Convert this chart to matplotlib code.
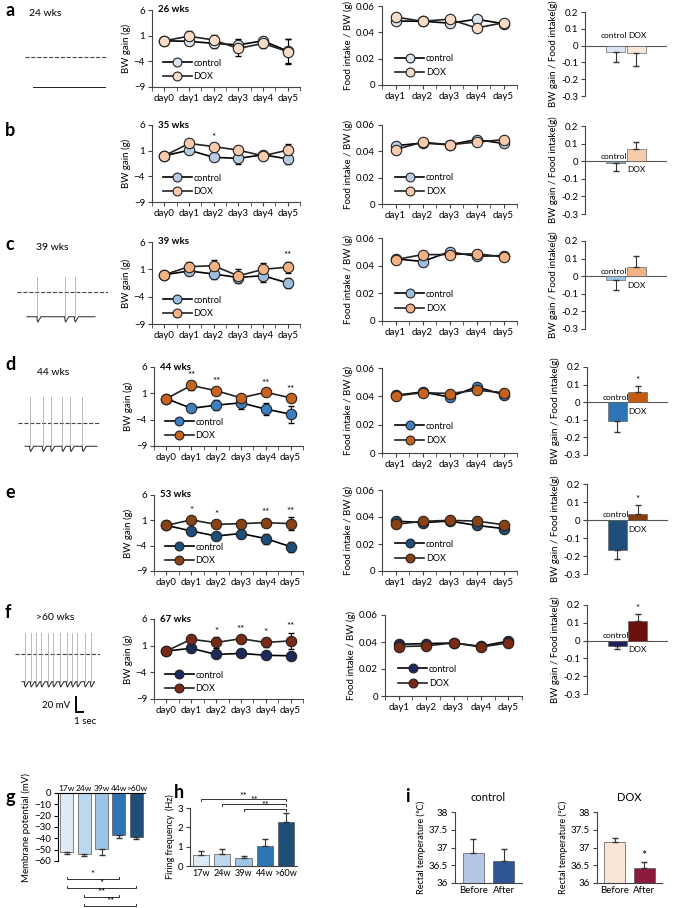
import matplotlib.pyplot as plt
import numpy as np

plt.rcParams['font.family'] = ['Lato', 'DejaVu Sans']
plt.rcParams['font.size'] = 7
plt.rcParams['axes.linewidth'] = 0.8

W, H = 674, 908

# ---- data ----
days_bw = ['day0', 'day1', 'day2', 'day3', 'day4', 'day5']
days_food = ['day1', 'day2', 'day3', 'day4', 'day5']
weeks = ['26 wks', '35 wks', '39 wks', '44 wks', '53 wks', '67 wks']

bw_ctrl = [[0, -0.1, -0.5, -0.8, 0.0, -2.0],
           [0, 1.1, -0.3, -0.5, 0.2, -0.6],
           [0, 0.7, 0.15, -0.5, -0.15, -1.5],
           [0, -1.85, -1.25, -0.8, -2.0, -2.95],
           [0, -1.1, -2.1, -1.6, -2.6, -4.2],
           [0, 0.5, -0.65, -0.45, -0.8, -0.9]]
bw_ctrl_err = [[0, 0.8, 0.9, 1.2, 0.8, 2.4],
               [0, 0.7, 0.5, 1.0, 0.6, 1.0],
               [0, 0.8, 1.0, 0.6, 1.1, 1.0],
               [0, 0.5, 1.0, 1.1, 1.2, 1.6],
               [0, 0.5, 0.5, 0.8, 1.0, 1.0],
               [0, 0.6, 0.4, 0.4, 0.4, 0.4]]
bw_dox = [[0, 0.9, 0.15, -1.5, -0.5, -2.1],
          [0, 2.4, 1.8, 1.1, 0.0, 1.1],
          [0, 1.5, 1.65, -0.2, 1.0, 1.4],
          [0, 2.5, 1.5, 0.15, 1.2, 0.15],
          [0, 1.1, 0.2, 0.35, 0.55, 0.35],
          [0, 2.2, 1.6, 2.3, 1.6, 1.9]]
bw_dox_err = [[0, 1.0, 1.0, 1.5, 1.0, 2.5],
              [0, 0.5, 0.6, 0.9, 0.8, 1.2],
              [0, 0.8, 1.0, 1.3, 1.2, 1.0],
              [0, 0.8, 0.5, 0.6, 0.5, 0.5],
              [0, 0.6, 0.8, 0.8, 0.8, 1.3],
              [0, 0.8, 1.0, 0.5, 0.8, 1.5]]
bw_stars = [['', '', '', '', '', ''],
            ['', '', '*', '', '', ''],
            ['', '', '', '', '', '**'],
            ['', '**', '**', '', '**', '**'],
            ['', '*', '*', '', '**', '**'],
            ['', '', '*', '**', '*', '**']]

food_ctrl = [[0.0486, 0.0484, 0.047, 0.0499, 0.0466],
             [0.0443, 0.0463, 0.045, 0.0489, 0.046],
             [0.045, 0.043, 0.050, 0.0468, 0.0473],
             [0.0407, 0.0431, 0.0395, 0.0467, 0.0412],
             [0.037, 0.0358, 0.037, 0.0338, 0.0314],
             [0.0383, 0.0388, 0.0393, 0.0368, 0.0407]]
food_dox = [[0.0516, 0.0484, 0.050, 0.0433, 0.0473],
            [0.0413, 0.047, 0.045, 0.047, 0.0489],
            [0.0444, 0.048, 0.048, 0.0487, 0.0463],
            [0.0402, 0.0426, 0.042, 0.0443, 0.0426],
            [0.0346, 0.0368, 0.0375, 0.037, 0.0343],
            [0.0366, 0.0371, 0.0393, 0.0363, 0.0393]]

ratio_ctrl = [-0.040, -0.013, -0.020, -0.107, -0.169, -0.028]
ratio_ctrl_err = [0.056, 0.044, 0.058, 0.060, 0.049, 0.020]
ratio_dox = [-0.046, 0.072, 0.052, 0.056, 0.031, 0.111]
ratio_dox_err = [0.076, 0.038, 0.065, 0.037, 0.052, 0.041]
ratio_stars = ['', '', '', '*', '*', '*']

ctrl_colors = ['#dce6f2', '#b8cce4', '#9dbde0', '#3d7fc0', '#1f4e79', '#1b2a5a']
dox_colors = ['#f9dcc8', '#f8cbad', '#f4b183', '#c8631f', '#8a4215', '#7a2a14']
ctrl_bar_colors = ['#dce6f2', '#8ea9c1', '#9dc3e6', '#2e75b6', '#1f4e79', '#1b1f5a']
dox_bar_colors = ['#fbe5d6', '#f8cbad', '#f4b183', '#c55a11', '#843c0c', '#6d0f0f']

# electrophysiology traces: spike times (s), resting level and spike peak (mV)
trace_names = ['24 wks', '39 wks', '44 wks', '>60 wks']
trace_spikes = [[],
                [2.7, 6.4, 7.7],
                [1.6, 3.3, 4.4, 5.9, 7.0, 8.6],
                [1.3, 2.1, 2.8, 3.5, 4.4, 5.1, 6.0, 6.9, 7.6, 8.3, 9.3, 10.1]]
trace_rest = [-40, -33, -31, -37]
trace_peak = [0, 20, 35, 28]

age_groups = ['17w', '24w', '39w', '44w', '>60w']
membrane = [-52, -54, -49, -37, -39]
membrane_err = [2, 2, 6, 3, 1.5]
firing = [0.55, 0.6, 0.4, 1.05, 2.3]
firing_err = [0.25, 0.3, 0.12, 0.35, 0.45]
age_colors = ['#deebf7', '#bdd7ee', '#9dc3e6', '#2e75b6', '#1f4e79']

temp_labels = ['Before', 'After']
temp_ctrl = [36.85, 36.63]
temp_ctrl_err = [0.38, 0.33]
temp_dox = [37.15, 36.43]
temp_dox_err = [0.12, 0.15]

fig = plt.figure(figsize=(W / 100, H / 100), dpi=100)


def px_axes(x0, y0, x1, y1):
    return fig.add_axes([x0 / W, 1 - y1 / H, (x1 - x0) / W, (y1 - y0) / H])


def style(ax):
    for s in ['top', 'right']:
        ax.spines[s].set_visible(False)
    ax.spines['left'].set_color('#444')
    ax.spines['bottom'].set_color('#444')
    ax.tick_params(length=3, width=0.8, color='#444', pad=2)


bw_boxes = [(152, 10, 300, 87), (152, 125, 300, 202), (152, 242, 300, 324),
            (154, 367, 303, 446), (154, 495, 303, 571), (154, 619, 303, 699)]
food_boxes = [(382, 6, 517, 85), (382, 125, 517, 204), (382, 238, 517, 321),
              (382, 368, 517, 453), (382, 490, 517, 571), (385, 615, 522, 696)]
bar_boxes = [(585, 12, 667, 96), (585, 126, 667, 214), (585, 241, 667, 329),
             (587, 367, 668, 455), (587, 484, 668, 574), (587, 605, 668, 694)]
letter_y = [10, 130, 245, 365, 492, 612]

for r in range(6):
    fig.text(5 / W, 1 - letter_y[r] / H, 'abcdef'[r], fontsize=13,
             fontweight='bold', va='center')

    # body weight gain
    ax = px_axes(*bw_boxes[r])
    x = np.arange(6)
    ax.errorbar(x, bw_ctrl[r], yerr=bw_ctrl_err[r], fmt='none', ecolor='k',
                elinewidth=0.8, capsize=2)
    ax.errorbar(x, bw_dox[r], yerr=bw_dox_err[r], fmt='none', ecolor='k',
                elinewidth=0.8, capsize=2)
    ax.plot(x, bw_ctrl[r], '-o', color='k', lw=1.2, ms=7.5, mfc=ctrl_colors[r],
            mec='#222', mew=0.8, label='control')
    ax.plot(x, bw_dox[r], '-o', color='#222', lw=1.2, ms=7.5, mfc=dox_colors[r],
            mec='#222', mew=0.8, label='DOX')
    for i, s in enumerate(bw_stars[r]):
        if s:
            top = max(bw_ctrl[r][i] + bw_ctrl_err[r][i], bw_dox[r][i] + bw_dox_err[r][i])
            ax.text(i, top + 0.3, s, ha='center', va='bottom', fontsize=7)
    ax.set_xlim(-0.5, 5.5)
    ax.set_ylim(-9, 6)
    ax.set_yticks([6, 1, -4, -9])
    ax.set_xticks(x)
    ax.set_xticklabels(days_bw)
    ax.set_xticks(np.arange(-0.5, 6, 1), minor=True)
    ax.tick_params(axis='x', which='major', length=0)
    ax.tick_params(axis='x', which='minor', length=3, color='#444')
    style(ax)
    ax.set_ylabel('BW gain (g)', labelpad=2)
    ax.text(0.04, 1.0, weeks[r], transform=ax.transAxes, fontweight='bold',
            va='center', fontsize=7)
    ax.legend(loc='lower left', bbox_to_anchor=(0.03, 0.0), frameon=False,
              handlelength=3.2, labelspacing=0.45, fontsize=6.5, borderpad=0.2,
              handletextpad=0.2, markerscale=0.85)

    # food intake
    ax = px_axes(*food_boxes[r])
    x = np.arange(5)
    ax.plot(x, food_ctrl[r], '-o', color='k', lw=1.2, ms=7.5, mfc=ctrl_colors[r],
            mec='#222', mew=0.8, label='control')
    ax.plot(x, food_dox[r], '-o', color='#222', lw=1.2, ms=7.5, mfc=dox_colors[r],
            mec='#222', mew=0.8, label='DOX')
    ax.set_xlim(-0.5, 4.5)
    ax.set_ylim(0, 0.06)
    ax.set_yticks([0, 0.02, 0.04, 0.06])
    ax.set_yticklabels(['0', '0.02', '0.04', '0.06'])
    ax.set_xticks(x)
    ax.set_xticklabels(days_food)
    ax.set_xticks(np.arange(-0.5, 5, 1), minor=True)
    ax.tick_params(axis='x', which='major', length=0)
    ax.tick_params(axis='x', which='minor', length=3, color='#444')
    style(ax)
    ax.set_ylabel('Food intake / BW (g)', labelpad=2)
    ax.legend(loc='lower left', bbox_to_anchor=(0.05, 0.02), frameon=False,
              handlelength=3.2, labelspacing=0.6, fontsize=6.5, borderpad=0.2,
              handletextpad=0.2, markerscale=0.85)

    # ratio bars
    ax = px_axes(*bar_boxes[r])
    vals = [ratio_ctrl[r], ratio_dox[r]]
    errs = [ratio_ctrl_err[r], ratio_dox_err[r]]
    ax.bar([0, 1], vals, width=0.95, color=[ctrl_bar_colors[r], dox_bar_colors[r]],
           edgecolor='#666', linewidth=0.5, zorder=2)
    lower = [e if v < 0 else 0 for v, e in zip(vals, errs)]
    upper = [e if v >= 0 else 0 for v, e in zip(vals, errs)]
    ax.errorbar([0, 1], vals, yerr=[lower, upper], fmt='none', ecolor='#333',
                elinewidth=0.8, capsize=2.5, zorder=3)
    ax.axhline(0, color='#555', lw=0.8, zorder=1)
    for i, (v, name) in enumerate(zip(vals, ['control', 'DOX'])):
        if r == 0:
            ax.text(i * 1.15 - 0.1, 0.06, name, ha='center', va='center', fontsize=6)
        elif v < 0:
            ax.text(i - 0.1, 0.028, name, ha='center', va='center', fontsize=6)
        else:
            ax.text(i, -0.05, name, ha='center', va='center', fontsize=6)
    if ratio_stars[r]:
        ax.text(1, ratio_dox[r] + ratio_dox_err[r] + 0.005, ratio_stars[r],
                ha='center', va='bottom', fontsize=7)
    ax.set_xlim(-1.5, 2.5)
    ax.set_ylim(-0.3, 0.2)
    ax.set_yticks([-0.3, -0.2, -0.1, 0, 0.1, 0.2])
    ax.set_yticklabels(['-0.3', '-0.2', '-0.1', '0', '0.1', '0.2'])
    ax.set_xticks([])
    style(ax)
    ax.spines['bottom'].set_visible(False)
    ax.set_ylabel('BW gain / Food intake(g)', labelpad=2)

# ---- traces ----
px_per_s, px_per_mv = 7.5, 0.75
trace_geo = [(25, 108, 57, 33, 105), (17, 108, 292, 27, 95),
             (18, 100, 423, 25, 97), (15, 100, 654, 22, 94)]
label_pos = [(45, 13), (52, 248), (53, 372), (55, 618)]
for k in range(4):
    x0, x1, yz, t0, t1 = trace_geo[k]
    ax = px_axes(x0, yz - 50, x1, yz + 60)
    ax.set_xlim(0, (x1 - x0) / px_per_s)
    ax.set_ylim(-60 / px_per_mv, 50 / px_per_mv)
    ax.axis('off')
    ax.plot([0, (x1 - x0) / px_per_s], [0, 0], ls='--', color='#444', lw=0.8)
    ts = (t0 - x0) / px_per_s
    te = (t1 - x0) / px_per_s
    rest = trace_rest[k]
    tx, ty = [ts], [rest]
    for t in trace_spikes[k]:
        tx += [t - 0.05, t, t + 0.08, t + 0.5]
        ty += [rest, rest - 5, rest - 7, rest]
        ax.plot([t, t], [rest, trace_peak[k]], color='#b0b0b0', lw=0.6)
    tx.append(te)
    ty.append(rest)
    ax.plot(tx, ty, color='#222', lw=0.7)
    fig.text(label_pos[k][0] / W, 1 - label_pos[k][1] / H, trace_names[k],
             ha='center', va='center', fontsize=7.5)
    if k == 3:
        sx = (76 - x0) / px_per_s
        ax.plot([sx, sx, sx + 1], [-57, -77, -77], color='k', lw=1.4,
                solid_joinstyle='miter')
        fig.text(56 / W, 1 - 706 / H, '20 mV', ha='center', va='center', fontsize=7)
        fig.text(85 / W, 1 - 721 / H, '1 sec', ha='center', va='center', fontsize=7)

# ---- g: membrane potential ----
fig.text(5 / W, 1 - 797 / H, 'g', fontsize=13, fontweight='bold', va='center')
ax = px_axes(58, 793, 145, 861)
xg = np.arange(5)
ax.bar(xg, membrane, width=0.75, color=age_colors, edgecolor='#555', linewidth=0.5)
ax.errorbar(xg, membrane, yerr=[membrane_err, [0] * 5], fmt='none', ecolor='#333',
            elinewidth=0.8, capsize=2)
ax.set_ylim(-60, 0)
ax.set_xlim(-0.5, 4.5)
ax.set_yticks([0, -10, -20, -30, -40, -50, -60])
ax.xaxis.tick_top()
ax.set_xticks(xg)
ax.set_xticklabels(age_groups, fontsize=6)
ax.tick_params(axis='x', length=0, pad=1)
for s in ['right', 'bottom']:
    ax.spines[s].set_visible(False)
ax.tick_params(axis='y', length=3, pad=2)
ax.set_ylabel('Membrane potential (mV)', labelpad=2)
g_brackets = [(0, 3, '*', -76), (0, 4, '*', -84), (1, 3, '**', -92), (1, 4, '**', -100)]
for i, j, s, yb in g_brackets:
    ax.plot([i, i, j, j], [yb + 2, yb, yb, yb + 2], color='#333', lw=0.7, clip_on=False)
    ax.text((i + j) / 2, yb + 0.5, s, ha='center', va='bottom', fontsize=7)

# ---- h: firing frequency ----
fig.text(174 / W, 1 - 792 / H, 'h', fontsize=13, fontweight='bold', va='center')
ax = px_axes(190, 808, 297, 866)
ax.bar(xg, firing, width=0.75, color=age_colors, edgecolor='#555', linewidth=0.5)
ax.errorbar(xg, firing, yerr=[[0] * 5, firing_err], fmt='none', ecolor='#333',
            elinewidth=0.8, capsize=2)
ax.set_ylim(0, 3)
ax.set_xlim(-0.5, 4.5)
ax.set_yticks([0, 1, 2, 3])
ax.set_xticks(xg)
ax.set_xticklabels(age_groups, fontsize=6.5)
style(ax)
ax.tick_params(axis='x', length=0)
ax.set_ylabel('Firing frequency  (Hz)', labelpad=2, fontsize=6.5)
h_brackets = [(2, 4, '**', 2.95), (1, 4, '**', 3.2), (0, 4, '**', 3.45)]
for i, j, s, yb in h_brackets:
    ax.plot([i, i, j, j], [yb - 0.1, yb, yb, yb - 0.1], color='#333', lw=0.7,
            clip_on=False)
    ax.text((i + j) / 2, yb - 0.07, s, ha='center', va='bottom', fontsize=6.5)

# ---- i: rectal temperature ----
fig.text(405 / W, 1 - 797 / H, 'i', fontsize=13, fontweight='bold', va='center')
for k, (vals, errs, cols, title, box) in enumerate([
        (temp_ctrl, temp_ctrl_err, ['#b4c7e7', '#2f5597'], 'control', (455, 812, 522, 883)),
        (temp_dox, temp_dox_err, ['#fbe5d6', '#8b1a3c'], 'DOX', (597, 812, 662, 883))]):
    ax = px_axes(*box)
    xt = np.arange(2)
    ax.bar(xt, [v - 36 for v in vals], bottom=36, width=0.7, color=cols,
           edgecolor='#555', linewidth=0.5)
    ax.errorbar(xt, vals, yerr=[[0, 0], errs], fmt='none', ecolor='#333',
                elinewidth=0.8, capsize=2)
    ax.set_ylim(36, 38)
    ax.set_xlim(-0.6, 1.6)
    ax.set_yticks([36, 36.5, 37, 37.5, 38])
    ax.set_yticklabels(['36', '36.5', '37', '37.5', '38'])
    ax.set_xticks(xt)
    ax.set_xticklabels(temp_labels)
    style(ax)
    ax.tick_params(axis='x', length=0)
    ax.set_ylabel('Rectal temperature (\u2103)', labelpad=2, fontsize=6.5)
    ax.set_title(title, fontsize=8, pad=8)
    if k == 1:
        ax.text(1, vals[1] + errs[1] + 0.02, '*', ha='center', va='bottom', fontsize=9)

fig.savefig('out.png', dpi=100)
